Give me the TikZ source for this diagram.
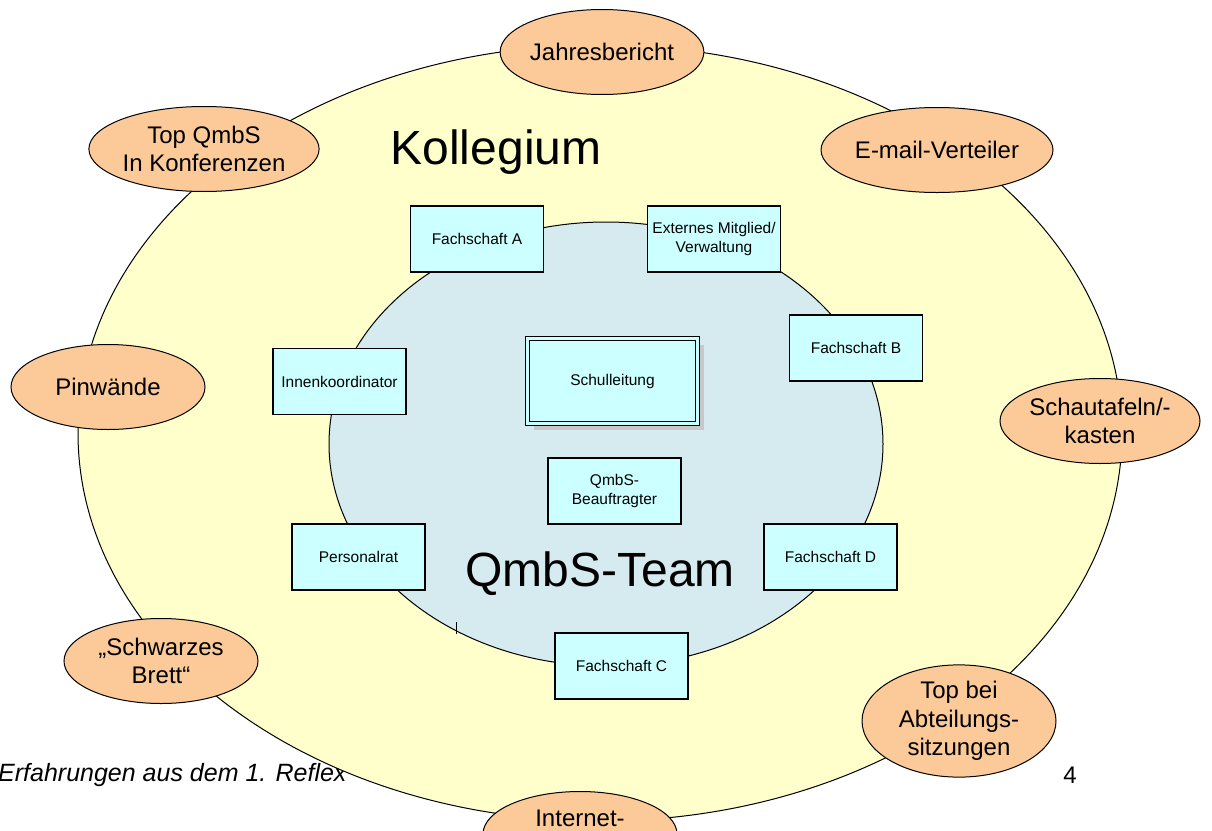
\documentclass[tikz,border=0pt]{standalone}
\usepackage{fontspec}
\setmainfont{Liberation Sans}
\usetikzlibrary{shapes.geometric,shadows}
\definecolor{kyellow}{HTML}{FFFFCC}
\definecolor{kblue}{HTML}{D5EBEF}
\definecolor{kcyan}{HTML}{CCFFFF}
\definecolor{korange}{HTML}{FCCA98}
\definecolor{kshadow}{HTML}{C8C8C8}
\begin{document}
\begin{tikzpicture}[x=1pt,y=-1pt,
  oval/.style={ellipse, draw=black, line width=1pt, fill=korange, minimum width=194pt, minimum height=85pt, inner sep=0pt, font=\fontsize{24}{28}\selectfont, align=center},
  box/.style={rectangle, draw=black, line width=1.2pt, fill=kcyan, minimum width=133pt, minimum height=66pt, inner sep=0pt, font=\fontsize{15.5}{19}\selectfont, align=center},
  big/.style={font=\fontsize{48}{56}\selectfont, inner sep=0pt}
  ]
\useasboundingbox (0,0) rectangle (1212,830);
% footer (behind the big ellipse)
\node[anchor=west, inner sep=0pt, font=\itshape\fontsize{25}{29}\selectfont] (foot) at (-2,775) {Erfahrungen aus dem 1. Reflex};
\node[inner sep=0pt, font=\fontsize{24}{28}\selectfont] (page) at (1070,775) {4};
% Kollegium ellipse
\node[ellipse, draw=black, line width=1pt, fill=kyellow, minimum width=1044pt, minimum height=776pt, inner sep=0pt] (koll) at (600,433) {};
% orange ellipses
\node[oval] (jahr) at (602,52) {Jahresbericht};
\node[oval] (topq) at (204,149) {Top QmbS\\In Konferenzen};
\node[oval] (mail) at (937,150) {E-mail-Verteiler};
\node[oval] (pin) at (108,387) {Pinw\"ande};
\node[oval] (schau) at (1100,421) {Schautafeln/-\\kasten};
\node[oval] (brett) at (161,661) {\char"201E Schwarzes\\Brett\char"201C};
\node[oval, font=\fontsize{24}{28.5}\selectfont] (abt) at (959,721) {Top bei\\Abteilungs-\\sitzungen};
\node[oval] (inet) at (580,834) {};
\node[inner sep=0pt, font=\fontsize{24}{28}\selectfont] (inettext) at (580,818) {Internet-};
% QmbS team circle
\node[ellipse, draw=black, line width=1pt, fill=kblue, minimum width=554pt, minimum height=444pt, inner sep=0pt] (team) at (606,444) {};
\draw[line width=0.8pt] (456,622) -- (456,634);
% boxes
\node[box] (fa) at (477,239) {Fachschaft A};
\node[box] (ext) at (714,239) {Externes Mitglied/\\Verwaltung};
\node[box] (fb) at (856,348) {Fachschaft B};
\node[box] (inn) at (339.5,381.5) {Innenkoordinator};
\node[box, minimum width=170pt, minimum height=85pt, line width=1pt, double=kcyan, double distance=2.4pt,
      drop shadow={shadow xshift=6pt, shadow yshift=-6pt, fill=kshadow, opacity=1}] (sl) at (612.5,381) {Schulleitung};
\node[box] (qb) at (614.5,491) {QmbS-\\Beauftragter};
\node[box] (pr) at (358.5,557) {Personalrat};
\node[box] (fd) at (830.5,557) {Fachschaft D};
\node[box] (fc) at (621.5,666) {Fachschaft C};
% titles
\node[big] (tk) at (496,152) {Kollegium};
\node[big] (tq) at (600,574) {QmbS-Team};
\end{tikzpicture}
\end{document}
